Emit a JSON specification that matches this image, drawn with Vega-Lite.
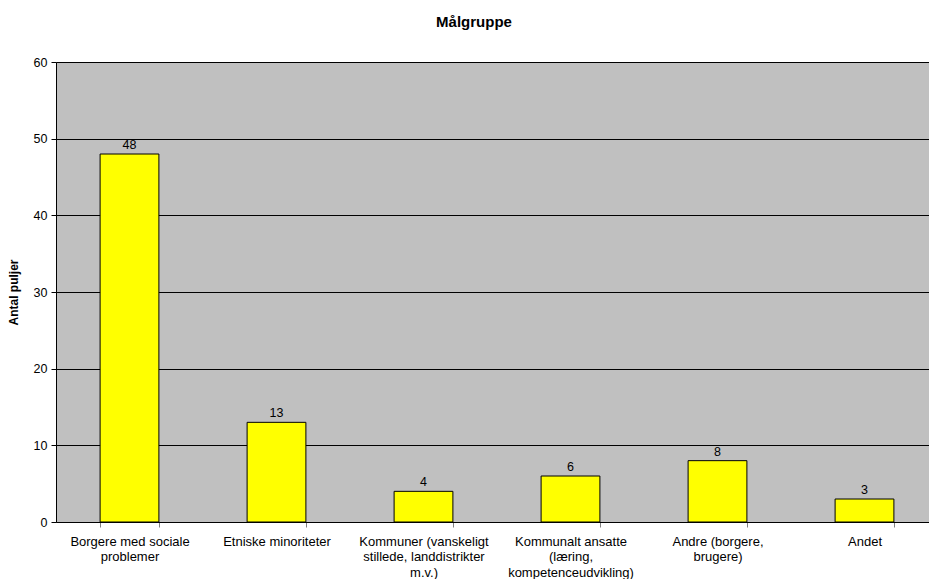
{
  "$schema": "https://vega.github.io/schema/vega-lite/v6.json",
  "autosize": {"type": "none"},
  "width": 882,
  "height": 460,
  "padding": {"left": 56, "top": 62, "right": 0, "bottom": 57},
  "background": "white",
  "title": {"text": "Målgruppe", "font": "Liberation Sans", "fontSize": 15, "fontWeight": "bold", "color": "black", "offset": 26, "anchor": "middle", "frame": "group", "dx": -23},
  "config": {
    "view": {"fill": "#C0C0C0", "stroke": null},
    "font": "Liberation Sans"
  },
  "data": {"values": [
    {"kategori": "Borgere med sociale|problemer", "antal": 48},
    {"kategori": "Etniske minoriteter", "antal": 13},
    {"kategori": "Kommuner (vanskeligt|stillede, landdistrikter|m.v.)", "antal": 4},
    {"kategori": "Kommunalt ansatte|(læring,|kompetenceudvikling)", "antal": 6},
    {"kategori": "Andre (borgere,|brugere)", "antal": 8},
    {"kategori": "Andet", "antal": 3}
  ]},
  "encoding": {
    "x": {"field": "kategori", "type": "nominal", "sort": null,
      "scale": {"paddingInner": 0.6, "paddingOuter": 0.3},
      "axis": {"title": null, "labelAngle": 0, "labelExpr": "split(datum.label, '|')", "labelFont": "Liberation Sans", "labelFontSize": 13, "labelColor": "black", "labelPadding": 8, "labelLineHeight": 15.5, "tickBand": "extent", "tickColor": "#808080", "tickSize": 5, "domainColor": "black", "labelLimit": 250}},
    "y": {"field": "antal", "type": "quantitative",
      "scale": {"domain": [0, 60], "nice": false},
      "axis": {"title": "Antal puljer", "titleFont": "Liberation Sans", "titleFontSize": 12, "titleFontWeight": "bold", "titleColor": "black", "titlePadding": 13, "values": [0, 10, 20, 30, 40, 50, 60], "labelFont": "Liberation Sans", "labelFontSize": 12.5, "labelColor": "black", "labelPadding": 4, "tickColor": "black", "tickSize": 5, "domainColor": "black", "gridColor": "black", "gridOpacity": 1, "grid": true}}
  },
  "layer": [
    {"mark": {"type": "bar", "fill": "#FFFF00", "stroke": "black", "strokeWidth": 1}},
    {"mark": {"type": "text", "dy": -9, "fontSize": 12.5, "font": "Liberation Sans", "color": "black"},
     "encoding": {"text": {"field": "antal", "type": "quantitative"}}}
  ]
}
